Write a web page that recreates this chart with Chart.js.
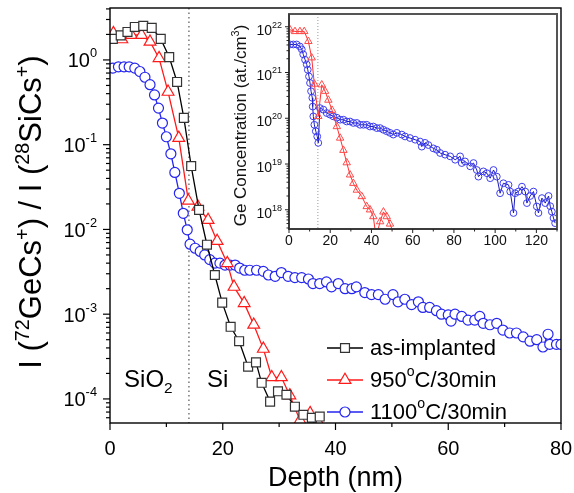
<!DOCTYPE html>
<html>
<head>
<meta charset="utf-8">
<script src="https://cdn.jsdelivr.net/npm/chart.js@4.4.0/dist/chart.umd.min.js"></script>
<style>
  html, body { margin: 0; padding: 0; background: #fff; }
  #wrap { position: relative; width: 574px; height: 493px; }
  #main { position: absolute; left: 0; top: 0; }
  #inset { position: absolute; left: 215px; top: 0; }
</style>
</head>
<body>
<div id="wrap">
  <canvas id="main" width="574" height="493"></canvas>
  <canvas id="inset" width="355" height="260"></canvas>
</div>
<script>
// SIMS ratio I(72GeCs+)/I(28SiCs+) vs depth (nm)
const depthAsImpl = [0.5, 1.9, 3.1, 4.4, 5.9, 7.4, 9.0, 10.5, 11.9, 13.1, 14.4, 15.8, 17.2, 18.6, 19.9, 21.4, 22.9, 24.5, 25.9, 26.9, 28.4, 29.8, 31.3, 32.8, 34.3, 35.8, 37.2];
const ratioAsImpl = [1.77, 1.95, 2.14, 2.45, 2.52, 2.39, 1.77, 1.08, 0.55, 0.207, 0.056, 0.017, 0.0066, 0.0029, 0.00137, 0.00071, 0.00048, 0.00024, 0.00027, 0.000155, 9.3e-5, 1.23e-4, 1.12e-4, 8.1e-5, 6.5e-5, 6.0e-5, 6.2e-5];

const depth950 = [0.6, 2.1, 3.8, 5.6, 7.1, 8.7, 10.3, 12.2, 13.9, 15.6, 17.4, 19.0, 20.8, 22.0, 23.8, 25.5, 27.2, 28.7, 30.4, 31.9, 33.7, 35.5, 36.9];
const ratio950 = [2.07, 1.75, 1.97, 1.97, 1.64, 1.05, 0.42, 0.12, 0.0218, 0.0185, 0.0129, 0.0073, 0.0040, 0.0021, 0.00135, 0.00075, 0.00039, 0.00018, 0.00018, 0.00011, 5.6e-5, 6.8e-5, 5.4e-5];

const depth1100 = [0.5, 1.5, 2.5, 3.4, 4.4, 5.3, 6.2, 7.1, 7.9, 8.6, 9.3, 10.0, 10.8, 11.5, 12.3, 13.0, 13.7, 14.2,
  15.1, 16.0, 16.8, 17.7, 18.6, 19.5, 20.4, 21.3, 22.2, 23.0, 23.9, 24.8, 26.0, 27.2, 28.1, 29.3, 30.4, 31.6, 32.8,
  34.0, 35.2, 36.0, 37.2, 38.4, 39.3, 40.5, 41.7, 42.9, 43.7, 45.2, 46.4, 47.6, 48.8, 50.2, 51.1, 52.3, 53.5, 54.7,
  55.5, 56.7, 57.9, 58.8, 60.0, 60.5, 61.2, 62.4, 63.5, 64.7, 65.6, 66.2, 67.4, 68.6, 69.7, 70.9, 72.1, 73.3, 74.5,
  75.7, 76.8, 77.7, 78.0, 79.2, 80.0];
const ratio1100 = [0.80, 0.83, 0.83, 0.83, 0.80, 0.73, 0.625, 0.51, 0.386, 0.27, 0.18, 0.124, 0.078, 0.047, 0.0267, 0.0155, 0.0099, 0.0067,
  0.0060, 0.0055, 0.0050, 0.0044, 0.0040, 0.0040, 0.0038, 0.0038, 0.0038, 0.0035, 0.0033, 0.0033, 0.0033, 0.0032, 0.0029, 0.0028, 0.0031, 0.0028, 0.0027,
  0.0027, 0.0026, 0.0023, 0.0023, 0.0024, 0.0021, 0.0023, 0.0020, 0.0020, 0.0021, 0.0018, 0.0017, 0.0017, 0.0015, 0.0017, 0.0014, 0.0015, 0.0013, 0.0014,
  0.0012, 0.0012, 0.0011, 0.0010, 0.00098, 0.00083, 0.0010, 0.00094, 0.00085, 0.00085, 0.00094, 0.00078, 0.00075, 0.00078, 0.00065, 0.00060, 0.00060, 0.00054, 0.00048,
  0.00050, 0.00041, 0.00058, 0.00044, 0.00044, 0.00044];

// inset: Ge concentration (at./cm3) vs depth (nm)
const insetDepth950 = [0.5, 2.9, 5.3, 7.4, 9.4, 11.0, 12.3, 14.2, 15.9, 17.5, 19.1, 20.9, 23.2, 24.8, 26.4, 28.0, 29.6, 31.2, 32.9, 35.3, 37.7, 39.3, 40.9, 42.2, 44.2, 45.8, 47.4, 49.0, 51.5, 55.0];
const insetConc950 = [8.6e21, 7.9e21, 7.9e21, 7.9e21, 4.8e21, 2.1e21, 5.6e20, 1.1e20, 5.4e20, 3.9e20, 2.5e20, 1.5e20, 6.6e19, 3.7e19, 2.0e19, 1.07e19, 5.8e18, 3.8e18, 2.7e18, 1.95e18, 1.18e18, 1.0e18, 7.1e17, 2.5e17, 5.5e17, 9.0e17, 7.1e17, 4.9e17, 2.5e17, 3.0e17];

const insetDepth1100 = [0.5, 2.1, 3.7, 5.3, 6.2, 6.9, 7.8, 8.6, 9.1, 9.7, 10.2, 10.7, 11.3, 11.5, 11.8, 12.3, 13.0, 13.7, 14.2,
  15.0, 16.7, 18.3, 19.9, 21.5, 23.2, 24.8, 26.4, 28.0, 29.6, 31.2, 32.9, 34.5, 36.1, 37.7, 39.3, 40.9, 42.6, 44.2, 45.8,
  47.4, 49.0, 50.6, 52.3, 54.7, 56.3, 58.7, 61.2, 63.6, 64.4, 66.0, 67.6, 70.0, 71.7, 73.3, 75.7, 78.2, 80.6, 83.0, 83.8,
  85.4, 87.9, 89.5, 91.1, 91.9, 94.3, 96.0, 97.6, 99.2, 100.8, 102.4, 104.0, 106.5, 107.3, 108.9, 109.7, 111.3, 113.0,
  114.6, 115.4, 117.0, 118.6, 120.2, 121.0, 122.7, 124.3, 125.9, 126.7, 127.5, 128.3, 129.1];
const insetConc1100 = [4.1e21, 4.1e21, 4.1e21, 3.7e21, 3.2e21, 2.5e21, 1.9e21, 1.5e21, 1.15e21, 8.2e20, 5.9e20, 3.9e20, 2.8e20, 1.8e20, 1.1e20, 7.2e19, 5.2e19, 4.0e19, 2.9e19,
  1.67e20, 1.54e20, 1.3e20, 1.2e20, 1.1e20, 1.03e20, 9.3e19, 9.3e19, 8.5e19, 8.5e19, 7.9e19, 7.9e19, 7.2e19, 7.2e19, 7.2e19, 6.6e19, 6.6e19, 6.1e19, 6.1e19, 5.6e19,
  5.2e19, 4.8e19, 4.4e19, 4.8e19, 4.4e19, 4.0e19, 3.7e19, 3.4e19, 3.1e19, 2.4e19, 2.9e19, 2.6e19, 2.2e19, 2.05e19, 1.74e19, 1.6e19, 1.47e19, 1.24e19, 1.47e19, 1.05e19,
  1.14e19, 8.9e18, 1.05e19, 7.4e18, 5.3e18, 6.9e18, 6.3e18, 4.9e18, 7.4e18, 5.3e18, 2.3e18, 3.8e18, 3.5e18, 2.5e18, 8.5e17, 2.3e18, 2.5e18, 3.2e18,
  2.5e18, 1.4e18, 2.0e18, 2.5e18, 1.18e18, 8.5e17, 1.8e18, 1.4e18, 2.0e18, 1.2e18, 9.1e17, 6.6e17, 5.1e17];

const mainXTicks = [0, 20, 40, 60, 80];
const mainYExponents = [-4, -3, -2, -1, 0];
const insetXTicks = [0, 20, 40, 60, 80, 100, 120];
const insetYExponents = [18, 19, 20, 21, 22];
const interfaceDepth = 14;   // SiO2 / Si interface

const FONT = '"Liberation Sans", Arial, sans-serif';
const BLACK = '#000', RED = '#ff1a1a', BLUE = '#2525f0';

function series(xs, ys) {
  return xs.map((x, i) => ({ x: x, y: ys[i] }));
}

// text with superscript / subscript pieces: [[text, 'n'|'sup'|'sub'], ...]
function drawRich(ctx, parts, x, y, size, align) {
  const fontOf = p => (p[1] === 'n' ? size : size * 0.64).toFixed(1) + 'px ' + FONT;
  let w = 0;
  parts.forEach(p => { ctx.font = fontOf(p); w += ctx.measureText(p[0]).width; });
  let cx = align === 'center' ? x - w / 2 : align === 'right' ? x - w : x;
  ctx.textAlign = 'left';
  parts.forEach(p => {
    ctx.font = fontOf(p);
    const dy = p[1] === 'sup' ? -size * 0.4 : p[1] === 'sub' ? size * 0.24 : 0;
    ctx.fillText(p[0], cx, y + dy);
    cx += ctx.measureText(p[0]).width;
  });
}

function line(ctx, x1, y1, x2, y2) {
  ctx.beginPath(); ctx.moveTo(x1, y1); ctx.lineTo(x2, y2); ctx.stroke();
}

function logTicks(lo, hi) {
  const out = [];
  for (let e = Math.floor(Math.log10(lo)); e <= Math.ceil(Math.log10(hi)); e++) {
    for (let m = 1; m <= 9; m++) {
      const v = m * Math.pow(10, e);
      if (v >= lo && v <= hi) out.push({ v: v, major: m === 1 });
    }
  }
  return out;
}

function marker(ctx, style, x, y, r, color) {
  ctx.save();
  ctx.strokeStyle = color; ctx.fillStyle = '#fff'; ctx.lineWidth = 1.2;
  ctx.beginPath();
  if (style === 'rect') {
    const s = r * Math.SQRT1_2;
    ctx.rect(x - s, y - s, 2 * s, 2 * s);
  } else if (style === 'triangle') {
    ctx.moveTo(x, y - r);
    ctx.lineTo(x + r * 0.866, y + r * 0.5);
    ctx.lineTo(x - r * 0.866, y + r * 0.5);
    ctx.closePath();
  } else {
    ctx.arc(x, y, r, 0, Math.PI * 2);
  }
  ctx.fill(); ctx.stroke();
  ctx.restore();
}

const legendItems = [
  { parts: [['as-implanted', 'n']], color: BLACK, mark: '#333', style: 'rect', r: 6.3 },
  { parts: [['950', 'n'], ['o', 'sup'], ['C/30min', 'n']], color: RED, mark: RED, style: 'triangle', r: 6.8 },
  { parts: [['1100', 'n'], ['o', 'sup'], ['C/30min', 'n']], color: BLUE, mark: BLUE, style: 'circle', r: 5 }
];

const mainDecor = {
  id: 'mainDecor',
  beforeDatasetsDraw(chart) {
    const { ctx, chartArea: a, scales: { x } } = chart;
    const px = x.getPixelForValue(interfaceDepth);
    ctx.save();
    ctx.strokeStyle = '#777'; ctx.lineWidth = 1.5; ctx.setLineDash([1.5, 3]);
    line(ctx, px, a.top, px, a.bottom);
    ctx.restore();
  },
  afterDraw(chart) {
    const { ctx, chartArea: a, scales: { x, y } } = chart;
    ctx.save();
    ctx.strokeStyle = '#000'; ctx.fillStyle = '#000'; ctx.lineWidth = 1.4;
    ctx.strokeRect(a.left, a.top, a.right - a.left, a.bottom - a.top);

    // x axis
    ctx.lineWidth = 1.2;
    for (let v = x.min; v <= x.max; v += 10) {
      const px = x.getPixelForValue(v);
      line(ctx, px, a.bottom, px, a.bottom + (v % 20 === 0 ? 7 : 4));
    }
    ctx.font = '20px ' + FONT; ctx.textAlign = 'center'; ctx.textBaseline = 'alphabetic';
    mainXTicks.forEach(v => ctx.fillText(String(v), x.getPixelForValue(v), a.bottom + 32));
    ctx.font = '27px ' + FONT;
    ctx.fillText('Depth (nm)', (a.left + a.right) / 2, a.bottom + 63);

    // y axis (log)
    logTicks(y.min, y.max).forEach(t => {
      const py = y.getPixelForValue(t.v);
      line(ctx, a.left, py, a.left - (t.major ? 7 : 4), py);
    });
    ctx.textBaseline = 'middle';
    mainYExponents.forEach(e => {
      drawRich(ctx, [['10', 'n'], [String(e), 'sup']], a.left - 13, y.getPixelForValue(Math.pow(10, e)) + 2, 20, 'right');
    });

    ctx.save();
    ctx.translate(41, 212);
    ctx.rotate(-Math.PI / 2);
    ctx.textBaseline = 'alphabetic';
    drawRich(ctx, [['I (', 'n'], ['72', 'sup'], ['GeCs', 'n'], ['+', 'sup'], [') / I (', 'n'], ['28', 'sup'], ['SiCs', 'n'], ['+', 'sup'], [')', 'n']], 0, 0, 31, 'center');
    ctx.restore();

    // layer labels
    ctx.textBaseline = 'alphabetic';
    drawRich(ctx, [['SiO', 'n'], ['2', 'sub']], x.getPixelForValue(2.5), y.getPixelForValue(1.38e-4), 24, 'left');
    drawRich(ctx, [['Si', 'n']], x.getPixelForValue(17.2), y.getPixelForValue(1.38e-4), 24, 'left');

    // legend
    ctx.textBaseline = 'middle';
    legendItems.forEach((it, i) => {
      const ly = a.bottom - 75 + i * 32;
      ctx.strokeStyle = it.color; ctx.lineWidth = 1.4;
      line(ctx, 327, ly, 363, ly);
      marker(ctx, it.style, 345, ly, it.r, it.mark);
      ctx.fillStyle = '#000';
      drawRich(ctx, it.parts, 370, ly + 1, 22, 'left');
    });
    ctx.restore();
  }
};

const insetDecor = {
  id: 'insetDecor',
  beforeDatasetsDraw(chart) {
    const { ctx, chartArea: a, scales: { x } } = chart;
    const px = x.getPixelForValue(interfaceDepth);
    ctx.save();
    ctx.strokeStyle = '#aaa'; ctx.lineWidth = 1.2; ctx.setLineDash([1, 2]);
    line(ctx, px, a.top, px, a.bottom);
    ctx.restore();
  },
  afterDraw(chart) {
    const { ctx, chartArea: a, scales: { x, y } } = chart;
    ctx.save();
    ctx.strokeStyle = '#555'; ctx.lineWidth = 2;
    ctx.strokeRect(a.left, a.top, a.right - a.left, a.bottom - a.top);
    ctx.strokeStyle = '#222'; ctx.lineWidth = 1;
    line(ctx, a.left, a.top, a.left, a.bottom);
    line(ctx, a.left, a.bottom, a.right, a.bottom);

    ctx.fillStyle = '#111';
    for (let v = 0; v <= x.max; v += 10) {
      const px = x.getPixelForValue(v);
      line(ctx, px, a.bottom, px, a.bottom + (v % 20 === 0 ? 4 : 2.5));
    }
    ctx.font = '14px ' + FONT; ctx.textAlign = 'center'; ctx.textBaseline = 'middle';
    insetXTicks.forEach(v => ctx.fillText(String(v), x.getPixelForValue(v), a.bottom + 12));

    logTicks(y.min, y.max).forEach(t => {
      const py = y.getPixelForValue(t.v);
      line(ctx, a.left, py, a.left - (t.major ? 4 : 2.5), py);
    });
    insetYExponents.forEach(e => {
      drawRich(ctx, [['10', 'n'], [String(e), 'sup']], a.left - 7, y.getPixelForValue(Math.pow(10, e)) + 4, 14, 'right');
    });

    ctx.save();
    ctx.translate(31, (a.top + a.bottom) / 2 + 4);
    ctx.rotate(-Math.PI / 2);
    ctx.textBaseline = 'alphabetic';
    drawRich(ctx, [['Ge Concentration (at./cm', 'n'], ['3', 'sup'], [')', 'n']], 0, 0, 17, 'center');
    ctx.restore();
    ctx.restore();
  }
};

new Chart(document.getElementById('main'), {
  type: 'line',
  data: {
    datasets: [
      {
        label: 'as-implanted', data: series(depthAsImpl, ratioAsImpl),
        borderColor: BLACK, borderWidth: 1.3, pointStyle: 'rect', pointRadius: 6.3,
        pointBorderColor: '#333', pointBackgroundColor: '#fff', pointBorderWidth: 1.2
      },
      {
        label: '950C/30min', data: series(depth950, ratio950),
        borderColor: RED, borderWidth: 1.3, pointStyle: 'triangle', pointRadius: 6.8,
        pointBorderColor: RED, pointBackgroundColor: '#fff', pointBorderWidth: 1.2
      },
      {
        label: '1100C/30min', data: series(depth1100, ratio1100),
        borderColor: BLUE, borderWidth: 1.3, pointStyle: 'circle', pointRadius: 5,
        pointBorderColor: BLUE, pointBackgroundColor: '#fff', pointBorderWidth: 1.2
      }
    ]
  },
  options: {
    responsive: false,
    animation: false,
    layout: { padding: { left: 110, top: 8, right: 13, bottom: 70 } },
    plugins: { legend: { display: false }, tooltip: { enabled: false } },
    elements: { line: { tension: 0 } },
    scales: {
      x: { type: 'linear', min: 0, max: 80, display: false },
      y: { type: 'logarithmic', min: 5.2e-5, max: 4.1, display: false }
    }
  },
  plugins: [mainDecor]
});

new Chart(document.getElementById('inset'), {
  type: 'line',
  data: {
    datasets: [
      {
        data: series(insetDepth950, insetConc950),
        borderColor: '#ff3030', borderWidth: 1, pointStyle: 'triangle', pointRadius: 4.3,
        pointBorderColor: '#ff4a4a', pointBackgroundColor: 'rgba(255,255,255,0)', pointBorderWidth: 1
      },
      {
        data: series(insetDepth1100, insetConc1100),
        borderColor: '#1a1ab8', borderWidth: 1, pointStyle: 'circle', pointRadius: 3.4,
        pointBorderColor: '#3c3cf0', pointBackgroundColor: 'rgba(255,255,255,0)', pointBorderWidth: 1
      }
    ]
  },
  options: {
    responsive: false,
    animation: false,
    layout: { padding: { left: 74, top: 14, right: 13, bottom: 31 } },
    plugins: { legend: { display: false }, tooltip: { enabled: false } },
    elements: { line: { tension: 0 } },
    scales: {
      x: { type: 'linear', min: 0, max: 130, display: false },
      y: { type: 'logarithmic', min: 3.8e17, max: 1.9e22, display: false }
    }
  },
  plugins: [insetDecor]
});
</script>
</body>
</html>
